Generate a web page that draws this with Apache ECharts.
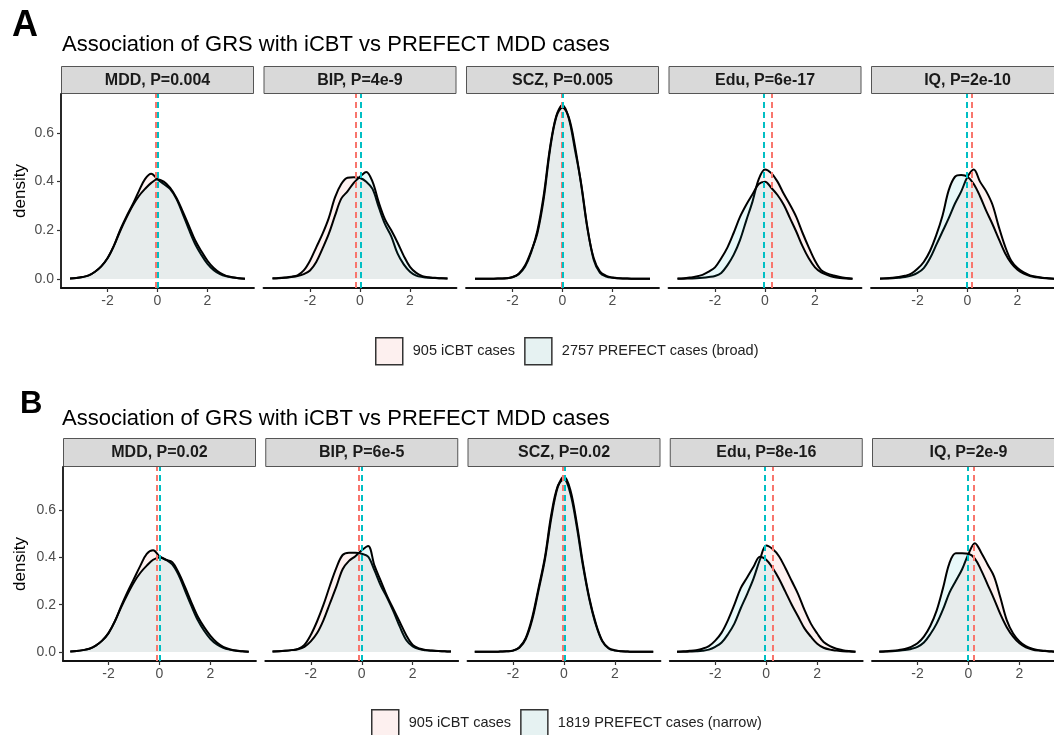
<!DOCTYPE html>
<html><head><meta charset="utf-8">
<script src="https://cdn.jsdelivr.net/npm/echarts@6/dist/echarts.min.js"></script>
<style>html,body{margin:0;padding:0;background:#fff}#c{width:1054px;height:735px}</style>
</head><body><div id="c"></div>
<script>
// ---- data ----
const xs = [-3.5,-3.25,-3,-2.75,-2.5,-2.25,-2,-1.75,-1.5,-1.25,-1,-0.75,-0.5,-0.25,0,0.25,0.5,0.75,1,1.25,1.5,1.75,2,2.25,2.5,2.75,3,3.25,3.5];
const xTicks = [-2, 0, 2];
const yTicks = [0, 0.2, 0.4, 0.6];

const titleA = 'Association of GRS with iCBT vs PREFECT MDD cases';
const titleB = 'Association of GRS with iCBT vs PREFECT MDD cases';
const stripsA = ['MDD, P=0.004','BIP, P=4e-9','SCZ, P=0.005','Edu, P=6e-17','IQ, P=2e-10'];
const stripsB = ['MDD, P=0.02','BIP, P=6e-5','SCZ, P=0.02','Edu, P=8e-16','IQ, P=2e-9'];
const nameIcbt = '905 iCBT cases';
const namePrefA = '2757 PREFECT cases (broad)';
const namePrefB = '1819 PREFECT cases (narrow)';

// panel A densities
const aMDD_icbt = [0.002,0.004,0.008,0.015,0.03,0.052,0.085,0.135,0.2,0.255,0.305,0.36,0.41,0.432,0.41,0.39,0.37,0.33,0.27,0.205,0.145,0.1,0.062,0.036,0.02,0.011,0.006,0.003,0.001];
const aMDD_pref = [0.002,0.004,0.008,0.015,0.03,0.052,0.085,0.135,0.195,0.25,0.3,0.34,0.37,0.395,0.41,0.4,0.375,0.335,0.28,0.22,0.16,0.115,0.075,0.045,0.025,0.013,0.007,0.003,0.001];
const aBIP_icbt = [0.003,0.004,0.006,0.009,0.015,0.035,0.075,0.13,0.185,0.25,0.335,0.39,0.416,0.418,0.415,0.4,0.37,0.295,0.225,0.175,0.105,0.06,0.03,0.014,0.008,0.005,0.004,0.003,0.002];
const aBIP_pref = [0.002,0.003,0.005,0.008,0.012,0.02,0.035,0.07,0.125,0.185,0.26,0.33,0.36,0.395,0.42,0.44,0.4,0.315,0.245,0.2,0.15,0.095,0.05,0.025,0.012,0.007,0.005,0.003,0.002];
const aSCZ_icbt = [0.001,0.001,0.001,0.001,0.002,0.003,0.007,0.02,0.05,0.11,0.2,0.345,0.54,0.67,0.715,0.66,0.53,0.39,0.21,0.078,0.025,0.01,0.005,0.003,0.002,0.001,0.001,0.001,0.001];
const aSCZ_pref = [0.001,0.001,0.001,0.001,0.002,0.003,0.008,0.022,0.055,0.115,0.19,0.33,0.53,0.665,0.705,0.665,0.545,0.385,0.205,0.085,0.03,0.013,0.006,0.003,0.002,0.001,0.001,0.001,0.001];
const aEdu_icbt = [0.001,0.001,0.002,0.003,0.005,0.008,0.012,0.025,0.057,0.1,0.16,0.24,0.318,0.41,0.45,0.435,0.4,0.35,0.305,0.255,0.19,0.13,0.075,0.036,0.022,0.014,0.008,0.004,0.001];
const aEdu_pref = [0.002,0.003,0.006,0.01,0.017,0.03,0.048,0.085,0.13,0.19,0.255,0.305,0.348,0.39,0.4,0.375,0.345,0.305,0.25,0.195,0.135,0.085,0.048,0.027,0.016,0.008,0.004,0.002,0.001];
const aIQ_icbt = [0.001,0.002,0.003,0.005,0.008,0.014,0.025,0.045,0.085,0.14,0.195,0.25,0.31,0.36,0.42,0.45,0.4,0.36,0.305,0.215,0.135,0.075,0.045,0.027,0.015,0.009,0.005,0.003,0.001];
const aIQ_pref = [0.002,0.003,0.005,0.008,0.013,0.022,0.042,0.07,0.115,0.18,0.26,0.365,0.42,0.427,0.42,0.39,0.34,0.28,0.225,0.165,0.107,0.065,0.038,0.022,0.012,0.007,0.004,0.002,0.001];

// panel B densities
const bMDD_icbt = [0.002,0.004,0.008,0.014,0.027,0.048,0.08,0.13,0.195,0.255,0.31,0.365,0.415,0.43,0.405,0.39,0.37,0.325,0.26,0.195,0.135,0.09,0.055,0.032,0.018,0.01,0.005,0.003,0.001];
const bMDD_pref = [0.002,0.004,0.008,0.014,0.027,0.048,0.08,0.13,0.19,0.245,0.295,0.335,0.365,0.39,0.4,0.39,0.38,0.335,0.275,0.21,0.15,0.105,0.068,0.04,0.022,0.012,0.006,0.003,0.001];
const bBIP_icbt = [0.002,0.003,0.005,0.008,0.013,0.03,0.072,0.13,0.2,0.28,0.355,0.41,0.42,0.42,0.415,0.403,0.345,0.28,0.228,0.17,0.105,0.05,0.024,0.012,0.007,0.005,0.004,0.003,0.002];
const bBIP_pref = [0.002,0.003,0.005,0.008,0.012,0.022,0.045,0.08,0.135,0.205,0.275,0.35,0.385,0.405,0.43,0.448,0.365,0.3,0.235,0.18,0.125,0.07,0.03,0.015,0.009,0.006,0.004,0.003,0.002];
const bSCZ_icbt = [0.001,0.001,0.001,0.001,0.002,0.003,0.006,0.02,0.06,0.145,0.27,0.4,0.58,0.7,0.73,0.67,0.53,0.36,0.22,0.115,0.045,0.015,0.006,0.003,0.002,0.001,0.001,0.001,0.001];
const bSCZ_pref = [0.001,0.001,0.001,0.001,0.002,0.003,0.006,0.018,0.055,0.135,0.26,0.39,0.565,0.695,0.742,0.685,0.545,0.37,0.225,0.12,0.048,0.017,0.007,0.003,0.002,0.001,0.001,0.001,0.001];
const bEdu_icbt = [0.001,0.001,0.002,0.003,0.005,0.01,0.022,0.04,0.075,0.12,0.185,0.245,0.31,0.39,0.45,0.435,0.405,0.355,0.3,0.245,0.178,0.12,0.078,0.042,0.025,0.014,0.008,0.004,0.001];
const bEdu_pref = [0.001,0.003,0.005,0.008,0.014,0.025,0.048,0.082,0.135,0.2,0.27,0.315,0.36,0.403,0.39,0.355,0.31,0.255,0.2,0.15,0.1,0.065,0.035,0.018,0.01,0.006,0.003,0.002,0.001];
const bIQ_icbt = [0.001,0.002,0.003,0.005,0.008,0.013,0.022,0.04,0.075,0.12,0.18,0.25,0.3,0.35,0.415,0.46,0.42,0.37,0.32,0.23,0.135,0.078,0.045,0.025,0.014,0.008,0.005,0.003,0.001];
const bIQ_pref = [0.002,0.003,0.005,0.008,0.013,0.022,0.037,0.065,0.11,0.175,0.27,0.375,0.417,0.417,0.415,0.395,0.345,0.285,0.225,0.16,0.105,0.065,0.037,0.02,0.011,0.006,0.004,0.002,0.001];

// group means (dashed lines)
const meanA_icbt = [-0.08, -0.16, -0.05, 0.27, 0.17];
const meanA_pref = [0.01, 0.04, 0.01, -0.07, -0.05];
const meanB_icbt = [-0.09, -0.10, -0.04, 0.27, 0.21];
const meanB_pref = [0.01, 0.01, 0.03, -0.04, -0.03];

// ---- layout / style ----
const FONT = '"Liberation Sans", Arial, Helvetica, sans-serif';
const RED = '#F8766D', CYAN = '#00BFC4';

const rows = [
  { letter:'A', letterSize:36, letterX:12, letterY:26, title:titleA, titleY:44.5,
    stripTop:66, stripH:28, top:94, height:194, left0:61, step:202.5, width:193,
    xmin:-3.86, xmax:3.86, ymin:-0.037, ymax:0.76, strips:stripsA,
    icbt:[aMDD_icbt,aBIP_icbt,aSCZ_icbt,aEdu_icbt,aIQ_icbt],
    pref:[aMDD_pref,aBIP_pref,aSCZ_pref,aEdu_pref,aIQ_pref],
    mi:meanA_icbt, mp:meanA_pref, prefName:namePrefA, legendLeft:375, legendTop:337 },
  { letter:'B', letterSize:31, letterX:20, letterY:404, title:titleB, titleY:419,
    stripTop:438, stripH:29, top:467, height:194, left0:63, step:202.25, width:193,
    xmin:-3.785, xmax:3.785, ymin:-0.038, ymax:0.782, strips:stripsB,
    icbt:[bMDD_icbt,bBIP_icbt,bSCZ_icbt,bEdu_icbt,bIQ_icbt],
    pref:[bMDD_pref,bBIP_pref,bSCZ_pref,bEdu_pref,bIQ_pref],
    mi:meanB_icbt, mp:meanB_pref, prefName:namePrefB, legendLeft:371, legendTop:709 }
];

const grid = [], xAxis = [], yAxis = [], series = [], graphic = [], legend = [];

rows.forEach((r, ri) => {
  graphic.push({ type:'text', style:{ x:r.letterX, y:r.letterY, text:r.letter, font:'bold '+r.letterSize+'px '+FONT, fill:'#000', align:'left', verticalAlign:'middle', textAlign:'left', textVerticalAlign:'middle' } });
  graphic.push({ type:'text', style:{ x:62, y:r.titleY, text:r.title, font:'22px '+FONT, fill:'#000', align:'left', verticalAlign:'middle', textAlign:'left', textVerticalAlign:'middle' } });
  graphic.push({ type:'text', x:20, y:r.top + r.height/2, rotation:Math.PI/2,
    style:{ x:0, y:0, text:'density', font:'17px '+FONT, fill:'#000', align:'center', verticalAlign:'middle', textAlign:'center', textVerticalAlign:'middle' } });

  for (let p = 0; p < 5; p++) {
    const gi = ri*5 + p;
    const left = r.left0 + p*r.step;
    graphic.push({ type:'rect', shape:{ x:left+0.5, y:r.stripTop+0.5, width:r.width-1, height:r.stripH-1 },
      style:{ fill:'#D9D9D9', stroke:'#555', lineWidth:1 } });
    graphic.push({ type:'text', style:{ x:left + r.width/2, y:r.stripTop + r.stripH/2 + 0.5, text:r.strips[p],
      font:'bold 16px '+FONT, fill:'#1a1a1a', align:'center', verticalAlign:'middle', textAlign:'center', textVerticalAlign:'middle' } });

    grid.push({ left:left, top:r.top, width:r.width, height:r.height, outerBoundsMode:'none', containLabel:false });
    xAxis.push({ type:'value', gridIndex:gi, min:r.xmin, max:r.xmax,
      axisLine:{ show:true, onZero:false, lineStyle:{ color:'#111', width:1.8 } },
      axisTick:{ show:true, customValues:xTicks, length:4, lineStyle:{ color:'#333', width:1.2 } },
      axisLabel:{ show:true, customValues:xTicks, color:'#4d4d4d', fontSize:14, fontFamily:FONT, margin:6,
        formatter:v => (v < 0 ? '-' + Math.abs(v) : String(v)) },
      splitLine:{ show:false } });
    yAxis.push({ type:'value', gridIndex:gi, min:r.ymin, max:r.ymax, show:p === 0,
      axisLine:{ show:true, onZero:false, lineStyle:{ color:'#111', width:1.8 } },
      axisTick:{ show:true, customValues:yTicks, length:4, lineStyle:{ color:'#333', width:1.2 } },
      axisLabel:{ show:true, customValues:yTicks, color:'#4d4d4d', fontSize:14, fontFamily:FONT, margin:7,
        formatter:v => v.toFixed(1) },
      splitLine:{ show:false } });

    const mk = (col, val) => ({ silent:true, symbol:['none','none'], label:{ show:false }, animation:false,
      lineStyle:{ color:col, type:[6,4], width:2 }, emphasis:{ disabled:true }, data:[{ xAxis:val }] });

    series.push({ type:'line', name:nameIcbt, xAxisIndex:gi, yAxisIndex:gi,
      data:xs.map((x,k) => [x, r.icbt[p][k]]), smooth:0.35, symbol:'none', silent:true,
      lineStyle:{ color:'#000', width:2 }, itemStyle:{ color:RED },
      areaStyle:{ color:RED, opacity:0.1 }, z:2, markLine:mk(RED, r.mi[p]) });
    series.push({ type:'line', name:r.prefName, xAxisIndex:gi, yAxisIndex:gi,
      data:xs.map((x,k) => [x, r.pref[p][k]]), smooth:0.35, symbol:'none', silent:true,
      lineStyle:{ color:'#000', width:2 }, itemStyle:{ color:CYAN },
      areaStyle:{ color:CYAN, opacity:0.09 }, z:3, markLine:mk(CYAN, r.mp[p]) });
  }

  legend.push({ left:r.legendLeft, top:r.legendTop, padding:0, orient:'horizontal',
    itemWidth:27, itemHeight:27, itemGap:9, icon:'rect', selectedMode:false,
    textStyle:{ fontSize:14.5, color:'#222', fontFamily:FONT, padding:[0,0,0,5] },
    data:[ { name:nameIcbt, itemStyle:{ color:'#FDF0EF', borderColor:'#333', borderWidth:1.5 } },
           { name:r.prefName, itemStyle:{ color:'#E6F2F2', borderColor:'#333', borderWidth:1.5 } } ] });
});

const chart = echarts.init(document.getElementById('c'), null, { renderer:'canvas' });
chart.setOption({ animation:false, backgroundColor:'#fff', grid, xAxis, yAxis, series, legend, graphic });
</script>
</body></html>
